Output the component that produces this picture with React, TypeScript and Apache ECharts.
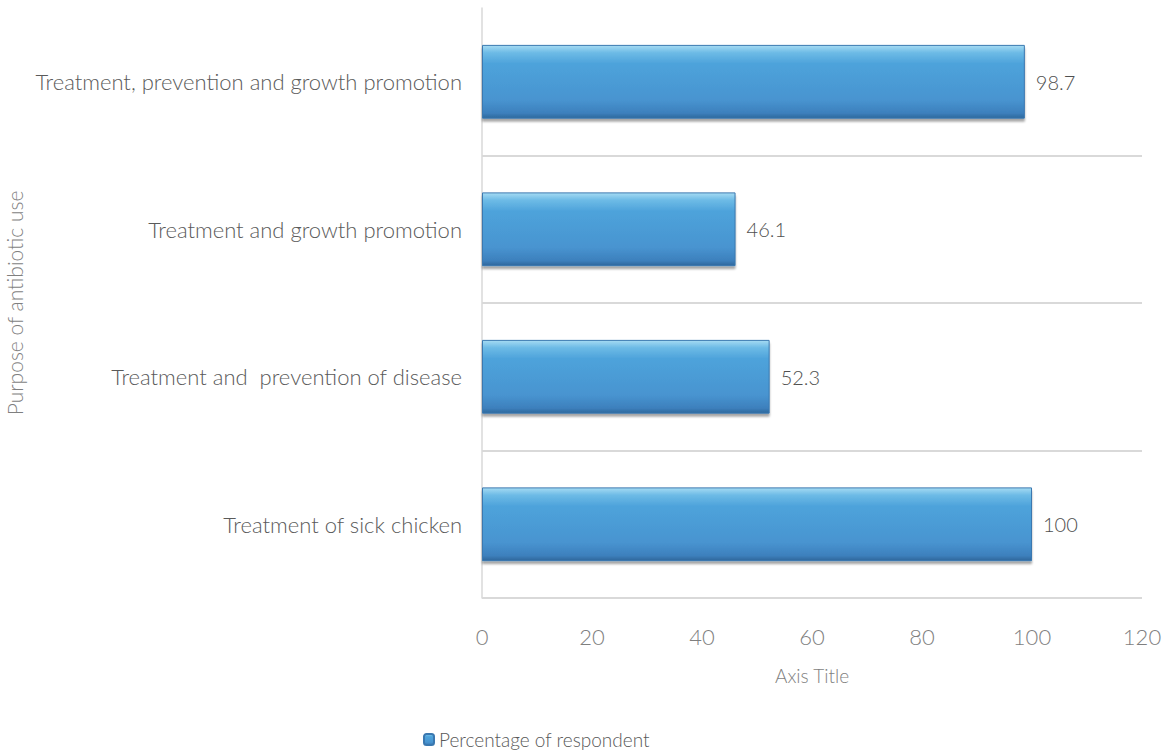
import React, { useEffect, useRef } from "react";
import * as echarts from "echarts";

const categories = [
  "Treatment of sick chicken",
  "Treatment and  prevention of disease",
  "Treatment and growth promotion",
  "Treatment, prevention and growth promotion",
];
const values = [100, 52.3, 46.1, 98.7];
const seriesName = "Percentage of respondent";
const xAxisTitle = "Axis Title";
const yAxisTitle = "Purpose of antibiotic use";

const FONT = "Lato, 'Noto Sans', sans-serif";

export default function App() {
  const ref = useRef<HTMLDivElement>(null);
  useEffect(() => {
    if (!ref.current) return;
    const chart = echarts.init(ref.current, undefined, { renderer: "svg" });
    const barColor = new echarts.graphic.LinearGradient(0, 0, 0, 1, [
      { offset: 0, color: "#a6dbf3" },
      { offset: 0.1, color: "#6dbbe6" },
      { offset: 0.25, color: "#4ea3db" },
      { offset: 0.75, color: "#4894d0" },
      { offset: 0.93, color: "#3d80bd" },
      { offset: 1, color: "#2f679c" },
    ]);
    chart.setOption({
      animation: false,
      backgroundColor: "#ffffff",
      textStyle: { fontFamily: FONT },
      grid: {
        left: 482,
        right: 27,
        top: 8,
        bottom: 157,
        containLabel: false,
        outerBoundsMode: "none",
      },
      legend: {
        show: true,
        left: 418,
        top: 725,
        itemWidth: 10,
        itemHeight: 11,
        itemGap: 4,
        textStyle: { fontSize: 19, color: "#595959", fontFamily: FONT, fontWeight: 300 },
        data: [seriesName],
      },
      xAxis: {
        type: "value",
        min: 0,
        max: 120,
        interval: 20,
        name: xAxisTitle,
        nameLocation: "middle",
        nameGap: 68,
        nameTextStyle: { fontSize: 19, color: "#7f7f7f", fontFamily: FONT, fontWeight: 300 },
        axisLine: { show: false },
        axisTick: { show: false },
        splitLine: { show: false },
        axisLabel: { fontSize: 22, color: "#7f7f7f", margin: 27, fontFamily: FONT, fontWeight: 300 },
      },
      yAxis: {
        type: "category",
        data: categories,
        name: yAxisTitle,
        nameLocation: "middle",
        nameGap: 452,
        nameTextStyle: { fontSize: 21, color: "#7f7f7f", fontFamily: FONT, fontWeight: 300 },
        axisLine: { show: true, lineStyle: { color: "#d9d9d9", width: 1.5 } },
        axisTick: { show: false },
        splitLine: {
          show: true,
          showMaxLine: false,
          showMinLine: true,
          lineStyle: { color: "#d9d9d9", width: 2 },
        },
        axisLabel: { fontSize: 22, color: "#5a5a5a", margin: 20, fontFamily: FONT, fontWeight: 300 },
      },
      series: [
        {
          name: seriesName,
          type: "bar",
          data: values,
          barWidth: "50%",
          itemStyle: {
            color: barColor,
            borderColor: "#3a78b0",
            borderWidth: 1,
            shadowColor: "rgba(0,0,0,0.35)",
            shadowOffsetY: 3,
            shadowBlur: 2,
          },
          label: {
            show: true,
            position: "right",
            distance: 11,
            fontSize: 20,
            color: "#505050",
            fontFamily: FONT,
            fontWeight: 300,
          },
        },
      ],
    });
    return () => chart.dispose();
  }, []);
  return (
    <div
      ref={ref}
      style={{ position: "fixed", left: 0, top: 0, width: 1169, height: 755 }}
    />
  );
}
